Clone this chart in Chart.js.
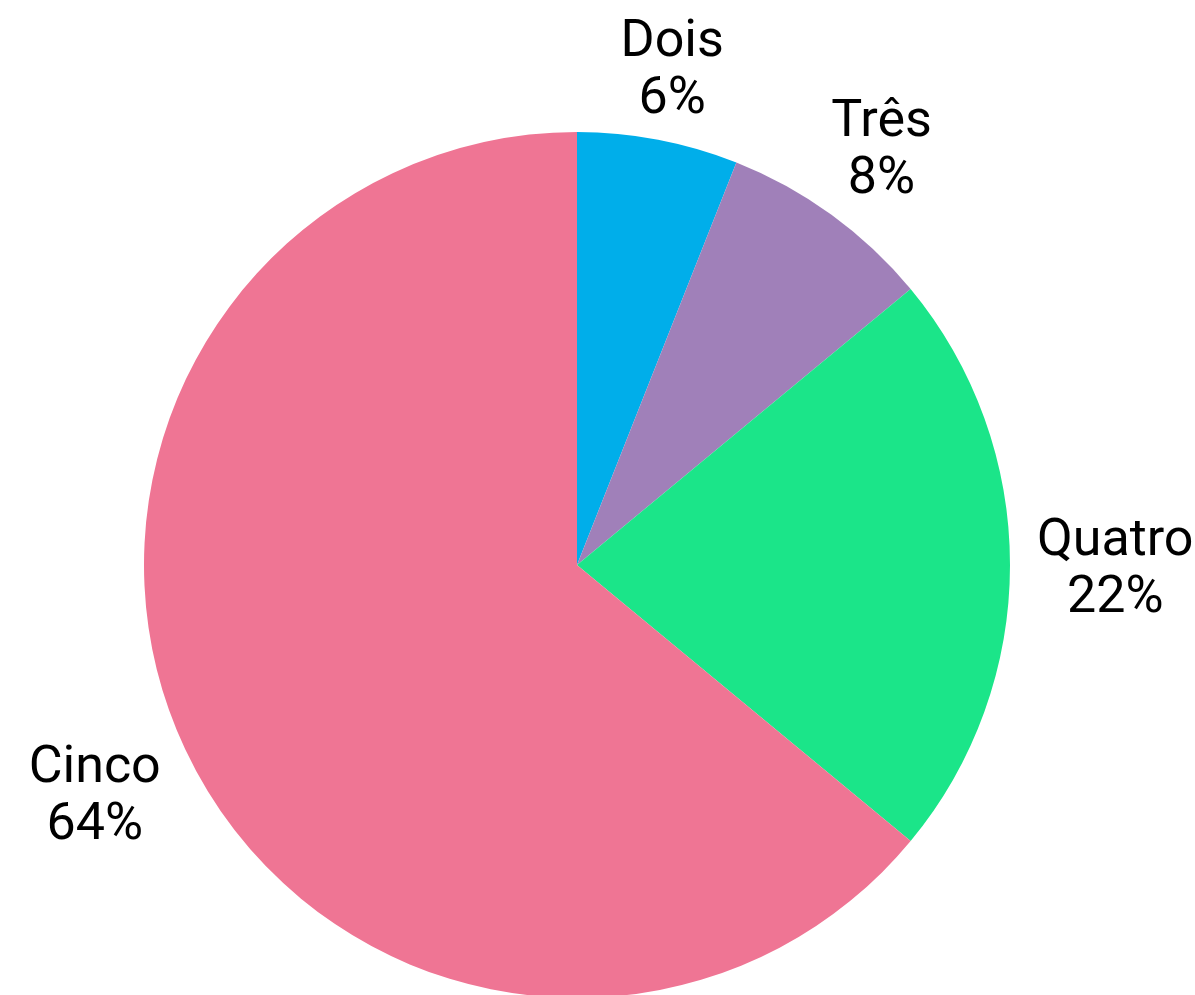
<!DOCTYPE html>
<html>
<head>
<meta charset="utf-8">
<script src="https://cdn.jsdelivr.net/npm/chart.js@4/dist/chart.umd.min.js"></script>
<style>
  html, body { margin: 0; padding: 0; background: #fff; overflow: hidden; }
  #wrap { position: relative; width: 1195px; height: 1000px; }
</style>
</head>
<body>
<div id="wrap"><canvas id="chartPie"></canvas></div>
<script>
// Slice names and values (percent of total)
const labels = ['Dois', 'Três', 'Quatro', 'Cinco'];
const values = [6, 8, 22, 64];
const colours = ['#00AEEA', '#A080B9', '#1BE589', '#EF7594'];

const FONT_SIZE = 52;
const LINE_HEIGHT = 57;
const CAP_HEIGHT = FONT_SIZE * 0.711;
const LABEL_GAP = 27;

// Draws "name\npercent" outside each slice, pushed out so the text box clears the circle
const outsideLabels = {
  id: 'outsideLabels',
  afterDraw(chart) {
    const ctx = chart.ctx;
    const meta = chart.getDatasetMeta(0);
    const total = values.reduce((a, b) => a + b, 0);
    ctx.save();
    ctx.font = FONT_SIZE + 'px Roboto';
    ctx.fillStyle = '#000';
    ctx.textAlign = 'center';
    ctx.textBaseline = 'alphabetic';
    meta.data.forEach((arc, i) => {
      const lines = [labels[i], Math.round(values[i] / total * 100) + '%'];
      const hw = Math.max(...lines.map(l => ctx.measureText(l).width)) / 2;
      const hh = (LINE_HEIGHT * (lines.length - 1) + CAP_HEIGHT) / 2;
      const mid = (arc.startAngle + arc.endAngle) / 2;
      const dx = Math.cos(mid);
      const dy = Math.sin(mid);
      const tx = Math.abs(dx) > 1e-6 ? hw / Math.abs(dx) : Infinity;
      const ty = Math.abs(dy) > 1e-6 ? hh / Math.abs(dy) : Infinity;
      const r = arc.outerRadius + LABEL_GAP + Math.min(tx, ty);
      const cx = arc.x + dx * r;
      const cy = arc.y + dy * r;
      let base = cy - hh + CAP_HEIGHT;
      lines.forEach(line => {
        ctx.fillText(line, cx, base);
        base += LINE_HEIGHT;
      });
    });
    ctx.restore();
  }
};

new Chart(document.getElementById('chartPie'), {
  type: 'pie',
  data: {
    labels: labels,
    datasets: [{
      data: values,
      backgroundColor: colours,
      borderWidth: 0,
    }],
  },
  options: {
    responsive: true,
    maintainAspectRatio: false,
    animation: false,
    layout: { padding: { top: 132, bottom: 2, left: 144, right: 185 } },
    plugins: {
      legend: { display: false },
      tooltip: { enabled: false },
    },
  },
  plugins: [outsideLabels],
});
</script>
</body>
</html>
